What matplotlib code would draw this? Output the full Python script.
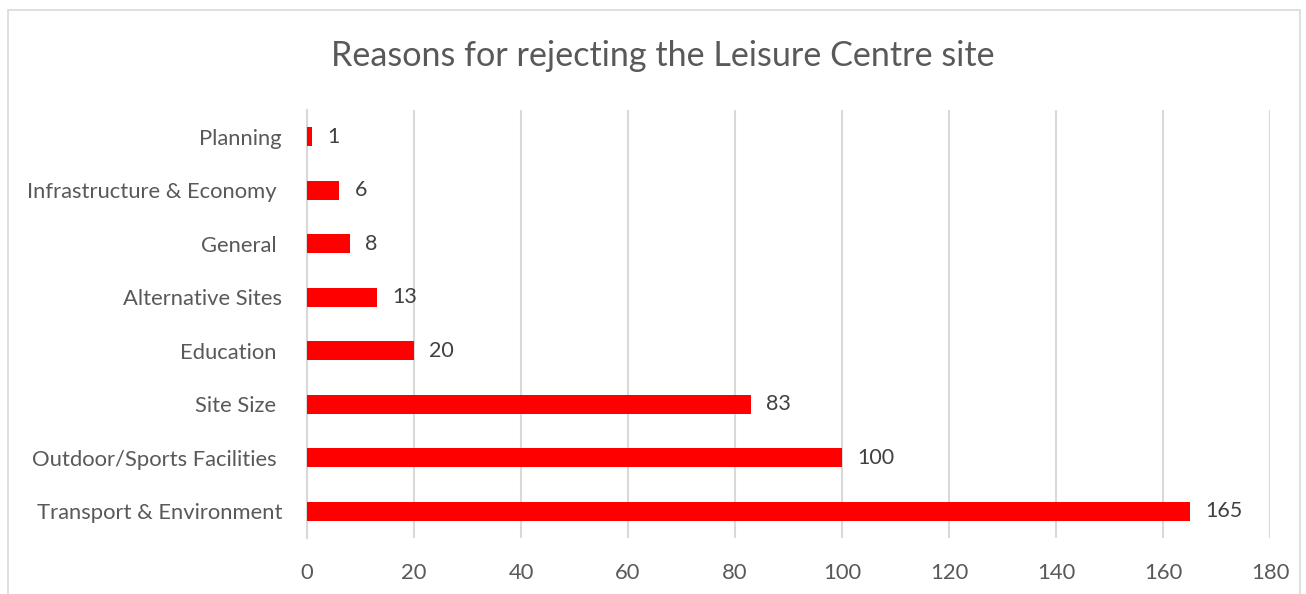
import matplotlib
matplotlib.use("Agg")
import matplotlib.pyplot as plt
from matplotlib.patches import Rectangle

categories = ["Planning", "Infrastructure & Economy ", "General ", "Alternative Sites",
              "Education ", "Site Size ", "Outdoor/Sports Facilities ", "Transport & Environment"]
values = [1, 6, 8, 13, 20, 83, 100, 165]
x_ticks = list(range(0, 181, 20))

plt.rcParams['font.family'] = ['Lato', 'DejaVu Sans']

fig = plt.figure(figsize=(13.06, 5.94), dpi=100)
ax = fig.add_axes([0.2351, 0.0943, 0.9724 - 0.2351, 0.8148 - 0.0943])

# chart border
fig.patches.append(Rectangle((8 / 1306, -0.01), (1300 - 8) / 1306, 1 - 10 / 594 + 0.01,
                             transform=fig.transFigure, fill=False,
                             edgecolor="#d9d9d9", linewidth=1.2))

ypos = list(range(len(categories)))
ax.barh(ypos, values, height=0.35, color="#ff0000", zorder=3)

for y, v in zip(ypos, values):
    ax.annotate(str(v), (v, y), xytext=(11, 0), textcoords="offset points",
                ha="left", va="center", fontsize=15.5, color="#404040")

ax.set_xlim(0, 180)
ax.set_ylim(len(categories) - 0.5, -0.5)
ax.set_xticks(x_ticks)
ax.set_yticks(ypos)
ax.set_yticklabels(categories)
ax.tick_params(axis="both", length=0, labelsize=15.8, colors="#595959")
ax.tick_params(axis="x", pad=18)
ax.tick_params(axis="y", pad=18)
ax.grid(axis="x", color="#d9d9d9", linewidth=1.5, zorder=0)
for s in ["top", "right", "bottom"]:
    ax.spines[s].set_visible(False)
ax.spines["left"].set_color("#d9d9d9")
ax.spines["left"].set_linewidth(1.5)

fig.text(0.5077, 1 - 56 / 594, "Reasons for rejecting the Leisure Centre site",
         ha="center", va="center", fontsize=24.6, color="#595959")

fig.savefig("out.png", dpi=100)
